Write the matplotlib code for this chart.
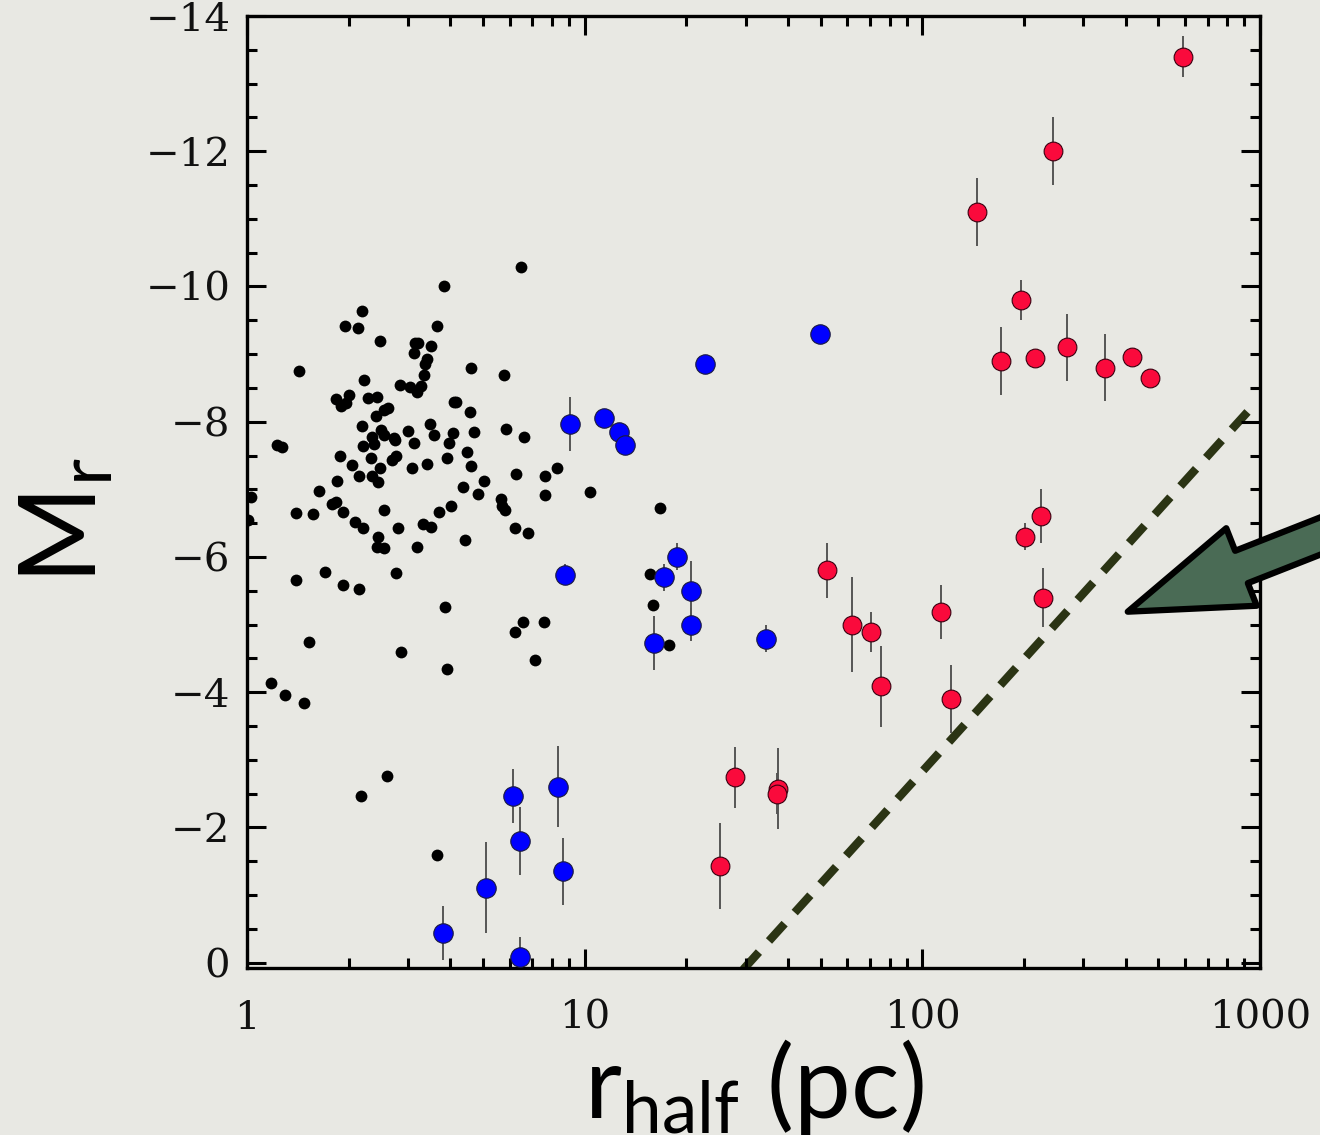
import numpy as np
import matplotlib.pyplot as plt
from matplotlib.ticker import MultipleLocator, LogLocator, NullFormatter

plt.rcParams['mathtext.fontset'] = 'custom'
plt.rcParams['mathtext.rm'] = 'Lato'
plt.rcParams['mathtext.it'] = 'Lato'

# black dots: r_half (pc), M_r
gc_r = [6.46, 3.84, 2.19, 1.955, 2.13, 2.48, 3.66, 3.14, 3.21, 3.50, 3.12, 3.41, 3.37, 3.35,
        4.61, 5.76, 1.426, 2.22, 2.84, 3.04, 3.19, 3.28, 1.835, 2.01, 1.895, 1.96, 2.28, 2.43,
        2.55, 2.62, 2.41, 4.10, 4.16, 4.57, 2.19, 3.48, 3.00, 3.59, 4.08, 4.70, 5.85, 6.60,
        2.34, 2.37, 2.50, 2.55, 2.72, 2.74, 2.21, 3.13, 3.97, 1.224, 1.267, 1.886, 2.33, 2.68,
        2.76, 4.49, 3.91, 2.04, 2.47, 3.09, 3.42, 4.61, 8.26, 6.27, 7.63, 1.85, 2.14, 2.35,
        2.44, 5.04, 4.37, 1.63, 10.4, 7.63, 4.84, 5.65, 5.70, 5.81, 1.03, 1.40, 1.565, 1.79,
        1.83, 1.92, 2.09, 2.21, 2.54, 2.44, 2.42, 2.55, 2.80, 3.32, 3.50, 3.18, 3.70, 4.02,
        4.41, 6.22, 6.81, 16.7, 1.01, 1.40, 1.70, 1.92, 2.15, 2.76, 3.86, 15.6, 15.9, 6.56,
        6.23, 7.58, 7.13, 3.92, 2.85, 1.53, 17.8, 1.175, 1.30, 1.475, 2.59, 2.17, 3.66]
gc_m = [-10.29, -10.00, -9.63, -9.41, -9.38, -9.19, -9.41, -9.17, -9.17, -9.12, -9.02, -8.93,
        -8.85, -8.69, -8.80, -8.69, -8.75, -8.61, -8.55, -8.51, -8.44, -8.53, -8.33, -8.40,
        -8.23, -8.27, -8.35, -8.36, -8.18, -8.20, -8.08, -8.29, -8.29, -8.15, -7.93, -7.97,
        -7.86, -7.81, -7.84, -7.85, -7.89, -7.77, -7.77, -7.67, -7.87, -7.81, -7.76, -7.73,
        -7.64, -7.68, -7.69, -7.66, -7.63, -7.49, -7.47, -7.43, -7.49, -7.55, -7.46, -7.36,
        -7.31, -7.31, -7.38, -7.35, -7.32, -7.23, -7.20, -7.13, -7.19, -7.19, -7.11, -7.13,
        -7.04, -6.98, -6.96, -6.91, -6.93, -6.86, -6.75, -6.69, -6.88, -6.65, -6.63, -6.78,
        -6.81, -6.67, -6.51, -6.43, -6.69, -6.30, -6.15, -6.13, -6.43, -6.48, -6.45, -6.14,
        -6.67, -6.75, -6.25, -6.43, -6.35, -6.72, -6.55, -5.66, -5.78, -5.59, -5.52, -5.76,
        -5.26, -5.75, -5.29, -5.04, -4.89, -5.04, -4.47, -4.34, -4.60, -4.74, -4.70, -4.14,
        -3.96, -3.84, -2.76, -2.46, -1.59]

# blue points
uf_r = [9.05, 11.4, 12.6, 13.2, 22.7, 49.9, 8.74, 18.8, 17.2, 20.6, 20.7, 16.1, 34.5,
        6.12, 8.35, 6.43, 8.62, 5.11, 3.81, 6.43]
uf_m = [-7.97, -8.05, -7.85, -7.65, -8.85, -9.30, -5.74, -6.00, -5.70, -5.49, -5.00, -4.73,
        -4.79, -2.46, -2.60, -1.80, -1.35, -1.11, -0.44, -0.08]
uf_err = [0.4, 0, 0, 0, 0, 0, 0.15, 0.2, 0.2, 0.45, 0.25, 0.4, 0.2,
          0.4, 0.6, 0.5, 0.5, 0.67, 0.4, 0.3]

# red points
dw_r = [590, 244, 145, 196, 171, 215, 269, 347, 418, 473, 224, 202, 228, 52.3, 62, 70.4,
        75.5, 114, 122, 27.8, 37.4, 37.1, 25.1]
dw_m = [-13.40, -12.0, -11.10, -9.80, -8.90, -8.94, -9.10, -8.80, -8.95, -8.64, -6.60, -6.30,
        -5.40, -5.80, -5.00, -4.89, -4.09, -5.19, -3.90, -2.74, -2.57, -2.50, -1.43]
dw_err = [0.3, 0.5, 0.5, 0.3, 0.5, 0, 0.5, 0.5, 0, 0, 0.4, 0.2, 0.43, 0.4, 0.7, 0.3,
          0.6, 0.4, 0.5, 0.45, 0.6, 0.3, 0.64]

# dashed limit line
lim_r = [29.5, 960]
lim_m = [0.1, -8.25]

xtick_vals = [1, 10, 100, 1000]
xtick_labels = ['1', '10', '100', '1000']
ytick_vals = [-14, -12, -10, -8, -6, -4, -2, 0]
ytick_labels = ['\u221214', '\u221212', '\u221210', '\u22128', '\u22126', '\u22124', '\u22122', '0']

bg = '#e8e8e3'
fig = plt.figure(figsize=(13.2, 11.35), dpi=100, facecolor=bg)
ax = fig.add_axes([0.1871, 0.1471, 0.7674, 0.8388])
ax.set_facecolor(bg)

ax.plot(lim_r, lim_m, color='#2b3414', lw=6, dashes=(2.8, 1.8), zorder=1)

ax.plot(gc_r, gc_m, 'o', color='black', ms=8.5, mec='none', zorder=3)

ax.errorbar(uf_r, uf_m, yerr=uf_err, fmt='none', ecolor='#555555', elinewidth=1.4, zorder=2)
ax.plot(uf_r, uf_m, 'o', color='#0000ff', ms=14, mec='#1a1a40', mew=0.8, zorder=4)

ax.errorbar(dw_r, dw_m, yerr=dw_err, fmt='none', ecolor='#555555', elinewidth=1.4, zorder=2)
ax.plot(dw_r, dw_m, 'o', color='#fa0a3c', ms=13.5, mec='#3a0010', mew=0.8, zorder=4)

ax.set_xscale('log')
ax.set_xlim(1, 1000)
ax.set_ylim(0.08, -14)

ax.set_xticks(xtick_vals)
ax.set_xticklabels(xtick_labels)
ax.xaxis.set_minor_locator(LogLocator(base=10, subs=np.arange(2, 10)))
ax.xaxis.set_minor_formatter(NullFormatter())
ax.set_yticks(ytick_vals)
ax.set_yticklabels(ytick_labels)
ax.yaxis.set_minor_locator(MultipleLocator(0.5))

ax.tick_params(which='both', direction='in', top=True, right=True, width=2.2, color='black')
ax.tick_params(which='major', length=14)
ax.tick_params(which='minor', length=7.5)
ax.tick_params(axis='x', which='major', pad=23)
ax.tick_params(axis='y', which='major', pad=12)
for lab in ax.get_xticklabels() + ax.get_yticklabels():
    lab.set_family('DejaVu Serif')
    lab.set_fontsize(29)
    lab.set_color('#111111')
for s in ax.spines.values():
    s.set_linewidth(2.4)

ax.set_xlabel(r'r$_{\mathrm{half}}$ (pc)', fontfamily='Lato', fontsize=73)
ax.xaxis.set_label_coords(0.5, -0.072)
ax.set_ylabel(r'M$_{\mathrm{r}}$', fontfamily='Lato', fontsize=76)
ax.yaxis.set_label_coords(-0.13, 0.47)

ax.annotate('', xy=(406, -5.19), xytext=(1.17, 0.50), textcoords='axes fraction',
            arrowprops=dict(arrowstyle='simple,head_length=8.8,head_width=6.0,tail_width=2.5',
                            mutation_scale=10, fc='#4a6b55', ec='black', lw=4.5,
                            shrinkA=0, shrinkB=0),
            annotation_clip=False, zorder=6)

fig.savefig('out.png', dpi=100, facecolor=bg)
